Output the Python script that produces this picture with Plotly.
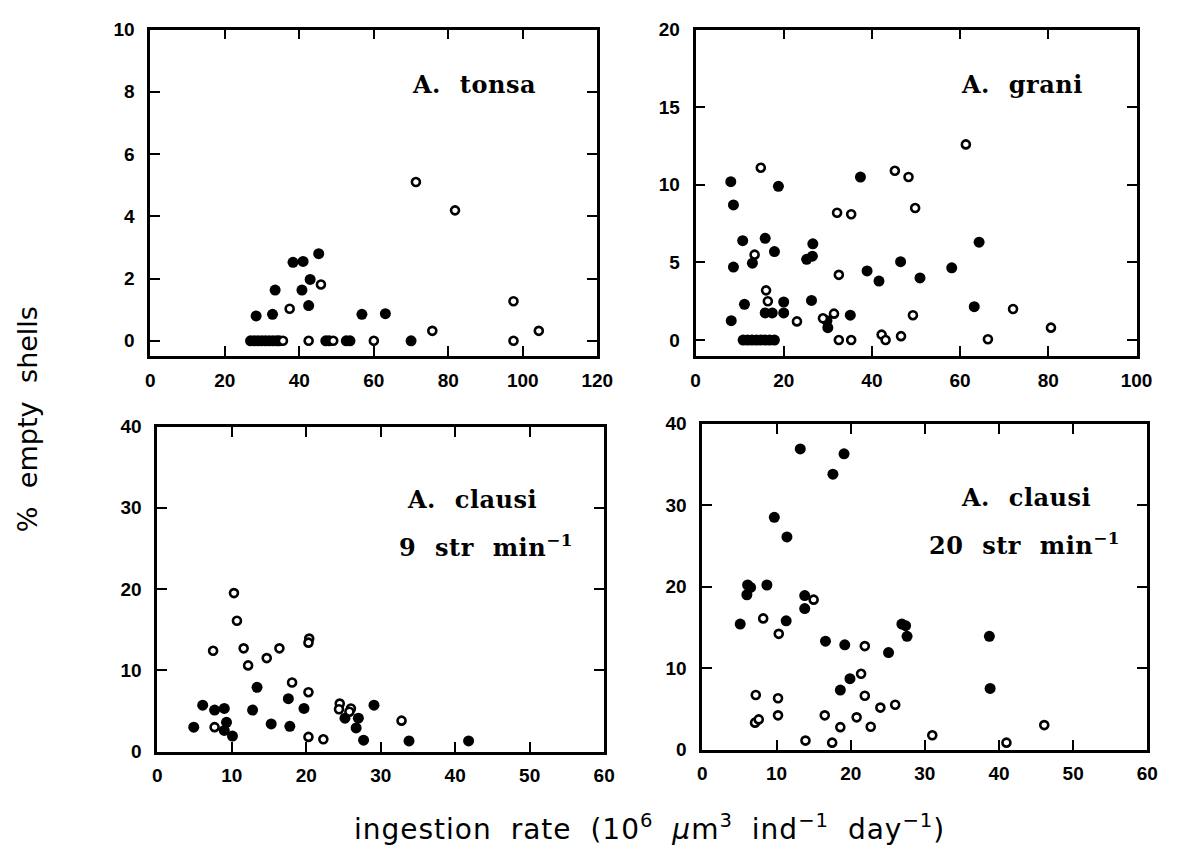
import plotly.graph_objects as go

W, H = 1182, 863

# ---------------- data ----------------
# A. tonsa
tonsa_filled_x = [26.9, 27.9, 28.9, 29.9, 30.9, 31.9, 32.9, 33.9, 34.6, 47.1, 48.0, 52.6, 53.6, 70.0,
                  28.4, 32.8, 33.5, 38.3, 41.0, 40.7, 42.5, 42.9, 45.2, 56.8, 63.1]
tonsa_filled_y = [0, 0, 0, 0, 0, 0, 0, 0, 0, 0, 0, 0, 0, 0,
                  0.80, 0.85, 1.63, 2.52, 2.55, 1.63, 1.13, 1.97, 2.80, 0.85, 0.87]
tonsa_open_x = [35.6, 42.5, 49.1, 60.0, 97.5, 37.4, 45.8, 71.3, 81.8, 97.5, 75.7, 104.3]
tonsa_open_y = [0, 0, 0, 0, 0, 1.03, 1.81, 5.10, 4.19, 1.27, 0.32, 0.32]

# A. grani
grani_filled_x = [10.8, 11.8, 12.8, 13.8, 14.8, 15.8, 16.8, 17.9,
                  8.0, 8.6, 18.8, 37.4, 10.7, 15.8, 17.9, 12.9, 8.6, 26.6, 25.2, 26.5, 64.3,
                  46.5, 58.1, 38.9, 41.6, 50.9, 11.1, 15.8, 17.4, 20.0, 20.0, 26.3, 8.1, 35.1,
                  63.2, 29.8, 30.0]
grani_filled_y = [0, 0, 0, 0, 0, 0, 0, 0,
                  10.2, 8.7, 9.9, 10.5, 6.4, 6.55, 5.7, 4.95, 4.7, 6.2, 5.2, 5.4, 6.3,
                  5.05, 4.65, 4.45, 3.8, 4.0, 2.3, 1.75, 1.75, 1.75, 2.45, 2.55, 1.25, 1.6,
                  2.15, 1.25, 0.8]
grani_open_x = [14.8, 45.2, 48.3, 49.8, 32.1, 35.3, 13.4, 32.5, 16.0, 16.4, 72.0, 23.0, 28.9,
                31.4, 49.3, 80.6, 42.2, 43.1, 46.6, 32.5, 35.3, 66.3, 61.3]
grani_open_y = [11.1, 10.9, 10.5, 8.5, 8.2, 8.1, 5.5, 4.2, 3.2, 2.5, 2.0, 1.2, 1.4,
                1.7, 1.6, 0.8, 0.35, 0.0, 0.25, 0.0, 0.0, 0.05, 12.6]

# A. clausi, 9 str min-1
c9_filled_x = [4.9, 6.1, 7.7, 9.0, 9.3, 9.0, 10.1, 13.4, 12.8, 15.3, 17.6, 17.8, 19.7, 25.2,
               27.0, 26.7, 29.1, 27.7, 33.8, 41.8]
c9_filled_y = [3.0, 5.7, 5.1, 5.3, 3.6, 2.6, 1.9, 7.9, 5.1, 3.4, 6.5, 3.1, 5.3, 4.1,
               4.1, 2.9, 5.7, 1.4, 1.3, 1.3]
c9_open_x = [10.3, 10.7, 7.5, 11.6, 12.2, 14.7, 16.4, 20.4, 20.3, 18.1, 20.3, 24.5, 24.4,
             26.0, 25.8, 32.8, 7.7, 20.3, 22.3]
c9_open_y = [19.5, 16.1, 12.4, 12.7, 10.6, 11.5, 12.7, 13.9, 13.4, 8.5, 7.3, 5.9, 5.2,
             5.3, 4.9, 3.8, 3.0, 1.8, 1.5]

# A. clausi, 20 str min-1
c20_filled_x = [13.2, 19.1, 17.6, 9.7, 11.4, 6.1, 6.5, 6.0, 8.7, 13.8, 13.8, 5.1, 11.3, 26.9,
                27.4, 27.6, 38.7, 16.6, 19.2, 25.1, 19.9, 18.6, 38.8]
c20_filled_y = [36.9, 36.3, 33.8, 28.5, 26.1, 20.2, 19.9, 19.0, 20.2, 18.9, 17.3, 15.4, 15.8, 15.4,
                15.2, 13.9, 13.9, 13.3, 12.85, 11.9, 8.7, 7.3, 7.5]
c20_open_x = [15.0, 8.2, 10.3, 21.9, 21.4, 7.2, 10.2, 21.9, 24.0, 26.0, 46.1, 7.1, 7.6, 10.2,
              16.5, 20.8, 18.6, 22.7, 31.0, 13.9, 17.5, 41.0]
c20_open_y = [18.4, 16.1, 14.2, 12.7, 9.3, 6.7, 6.3, 6.6, 5.15, 5.5, 3.0, 3.3, 3.7, 4.2,
              4.2, 3.95, 2.75, 2.8, 1.75, 1.1, 0.85, 0.85]

panel_labels = ["A. tonsa", "A. grani", "A. clausi", "A. clausi"]
rate_labels = ["9 str min<sup>\u22121</sup>", "20 str min<sup>\u22121</sup>"]
y_title = "% empty shells"
x_title = ("ingestion rate (10<sup>6</sup> <i>\u03bc</i>m<sup>3</sup> ind<sup>\u22121</sup> "
           "day<sup>\u22121</sup>)")

x_ranges = [[0, 120], [0, 100], [0, 60], [0, 60]]
y_ranges = [[-0.5, 10], [-1.05, 20], [0, 40], [0, 40]]
x_dticks = [20, 20, 10, 10]
y_dticks = [2, 5, 10, 10]

# ---------------- layout helpers ----------------
def px_x(p):
    return p / W

def px_y(p):
    return 1 - p / H

def spaced(text, ws, ls=0):
    return '<span style="letter-spacing:%gpx;word-spacing:%gpx">%s</span>' % (ls, ws, text)

domains = [
    ((148, 603), (20, 355)),
    ((703, 1152), (20, 355)),
    ((155, 610), (427, 760)),
    ((710, 1163), (424, 758)),
]

fig = go.Figure()

series = [
    (tonsa_filled_x, tonsa_filled_y, tonsa_open_x, tonsa_open_y),
    (grani_filled_x, grani_filled_y, grani_open_x, grani_open_y),
    (c9_filled_x, c9_filled_y, c9_open_x, c9_open_y),
    (c20_filled_x, c20_filled_y, c20_open_x, c20_open_y),
]

tick_font = dict(family="Liberation Sans", size=19, color="black", weight="bold")

for i, (fx, fy, ox, oy) in enumerate(series):
    n = "" if i == 0 else str(i + 1)
    fig.add_trace(go.Scatter(x=fx, y=fy, mode="markers", xaxis="x" + n, yaxis="y" + n,
                             marker=dict(symbol="circle", size=11, color="black",
                                         line=dict(width=0)),
                             showlegend=False, hoverinfo="skip"))
    fig.add_trace(go.Scatter(x=ox, y=oy, mode="markers", xaxis="x" + n, yaxis="y" + n,
                             marker=dict(symbol="circle", size=8, color="white",
                                         line=dict(width=2.6, color="black")),
                             showlegend=False, hoverinfo="skip"))
    (x0, x1), (y0, y1) = domains[i]
    common = dict(showline=True, linecolor="black", linewidth=2.8, mirror="allticks",
                  ticks="inside", ticklen=10, tickwidth=2.2, tickcolor="black",
                  showgrid=False, zeroline=False, tickfont=tick_font)
    fig.layout["xaxis" + n] = dict(domain=[px_x(x0), px_x(x1)], range=x_ranges[i],
                                   anchor="y" + n, tick0=0, dtick=x_dticks[i],
                                   ticklabelstandoff=5, **common)
    fig.layout["yaxis" + n] = dict(domain=[px_y(y1), px_y(y0)], range=y_ranges[i],
                                   anchor="x" + n, tick0=0, dtick=y_dticks[i],
                                   ticklabelstandoff=9, **common)

serif = dict(family="DejaVu Serif", size=24, color="black", weight="bold")
annots = [
    dict(text=spaced(panel_labels[0], 10, 0.5), x=px_x(412), y=px_y(76)),
    dict(text=spaced(panel_labels[1], 10, 0.5), x=px_x(971), y=px_y(76)),
    dict(text=spaced(panel_labels[2], 10, 0.5), x=px_x(407), y=px_y(502)),
    dict(text=spaced(rate_labels[0], 10, 0.5), x=px_x(399), y=px_y(549)),
    dict(text=spaced(panel_labels[3], 10, 0.5), x=px_x(971), y=px_y(500)),
    dict(text=spaced(rate_labels[1], 10, 0.5), x=px_x(939), y=px_y(547)),
]
for a in annots:
    fig.add_annotation(xref="paper", yref="paper", xanchor="left", yanchor="middle",
                       showarrow=False, font=serif, **a)

fig.add_annotation(xref="paper", yref="paper", x=px_x(23), y=px_y(420),
                   text=spaced(y_title, 10),
                   textangle=-90, showarrow=False, xanchor="center", yanchor="middle",
                   font=dict(family="DejaVu Sans", size=27, color="black"))
fig.add_annotation(xref="paper", yref="paper", x=px_x(656), y=px_y(838),
                   text=spaced(x_title, 9, 1),
                   showarrow=False, xanchor="center", yanchor="middle",
                   font=dict(family="DejaVu Sans", size=28, color="black"))

fig.update_layout(width=W, height=H, margin=dict(l=0, r=0, t=0, b=0),
                  paper_bgcolor="white", plot_bgcolor="white")

fig.write_html("out.html")
